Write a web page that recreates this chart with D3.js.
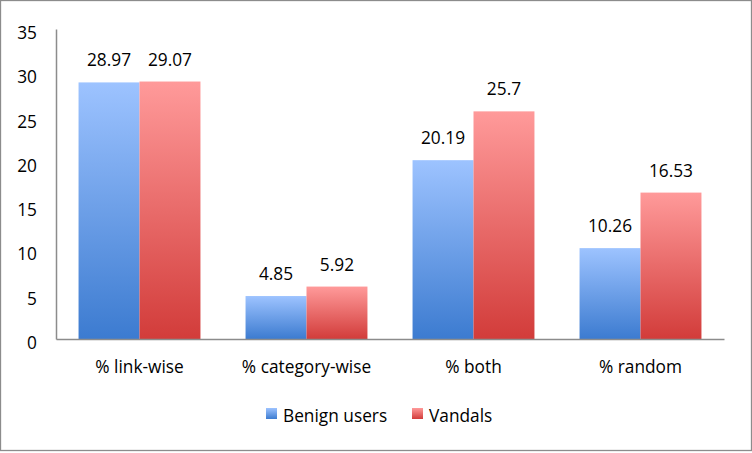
<!DOCTYPE html>
<html>
<head>
<meta charset="utf-8">
<script src="https://cdn.jsdelivr.net/npm/d3@7"></script>
<style>
body { margin: 0; background: #fff; }
svg text { font-family: "Open Sans", "Liberation Sans", sans-serif; fill: #000; }
</style>
</head>
<body>
<svg id="chart"></svg>
<script>
var categories = ["% link-wise", "% category-wise", "% both", "% random"];
var seriesNames = ["Benign users", "Vandals"];
var benign = [28.97, 4.85, 20.19, 10.26];
var vandals = [29.07, 5.92, 25.7, 16.53];
var benignLabels = ["28.97", "4.85", "20.19", "10.26"];
var vandalLabels = ["29.07", "5.92", "25.7", "16.53"];
var yTicks = [0, 5, 10, 15, 20, 25, 30, 35];

var w = 752, h = 453;
var margin = {left: 56, right: 28, top: 29, bottom: 114};
var fs = "17.3px";
var svg = d3.select("#chart").attr("width", w).attr("height", h);

var defs = svg.append("defs");
function grad(id, top, bottom) {
  var g = defs.append("linearGradient").attr("id", id)
    .attr("x1", 0).attr("y1", 0).attr("x2", 0).attr("y2", 1);
  g.append("stop").attr("offset", "0%").attr("stop-color", top);
  g.append("stop").attr("offset", "100%").attr("stop-color", bottom);
}
grad("gBlue", "#9dc3ff", "#3c7bd0");
grad("gRed", "#ff9a9a", "#d23c3a");
var fills = ["url(#gBlue)", "url(#gRed)"];

// outer frame
svg.append("rect")
  .attr("x", 0.5).attr("y", 0.5)
  .attr("width", w - 1).attr("height", h - 3)
  .attr("fill", "none").attr("stroke", "#8c8c8c").attr("stroke-width", 1.3);

var x = d3.scaleBand().domain(categories)
  .range([margin.left, w - margin.right]).paddingInner(0.27).paddingOuter(0.135);
var x1 = d3.scaleBand().domain(seriesNames).range([0, x.bandwidth()]);
var y = d3.scaleLinear().domain([0, 35]).range([h - margin.bottom, margin.top]);

// y axis
var yAxis = svg.append("g").attr("transform", `translate(${margin.left},0)`)
  .call(d3.axisLeft(y).tickValues(yTicks).tickSize(0).tickPadding(19));
yAxis.select(".domain").attr("stroke", "#8c8c8c").attr("stroke-width", 1.5);
yAxis.selectAll("text").style("font-size", fs).attr("text-anchor", "end").attr("dy", "0.55em");

var rows = categories.map(function(c, i) {
  return {cat: c, vals: [benign[i], vandals[i]], labels: [benignLabels[i], vandalLabels[i]]};
});

var groups = svg.selectAll(".grp").data(rows).enter().append("g")
  .attr("transform", function(d) { return `translate(${x(d.cat)},0)`; });

groups.selectAll("rect").data(function(d) {
  return d.vals.map(function(v, j) { return {s: seriesNames[j], v: v, j: j}; });
}).enter().append("rect")
  .attr("x", function(d) { return x1(d.s); })
  .attr("y", function(d) { return y(d.v); })
  .attr("width", x1.bandwidth())
  .attr("height", function(d) { return y(0) - y(d.v); })
  .attr("fill", function(d) { return fills[d.j]; });

groups.selectAll("text.val").data(function(d) {
  return d.vals.map(function(v, j) { return {s: seriesNames[j], v: v, t: d.labels[j]}; });
}).enter().append("text").attr("class", "val")
  .attr("x", function(d) { return x1(d.s) + x1.bandwidth() / 2; })
  .attr("y", function(d) { return y(d.v) - 16; })
  .attr("text-anchor", "middle")
  .style("font-size", fs)
  .text(function(d) { return d.t; });

// x axis
var xAxis = svg.append("g").attr("transform", `translate(0,${y(0)})`)
  .call(d3.axisBottom(x).tickSize(0).tickPadding(22));
xAxis.select(".domain").attr("stroke", "#8c8c8c").attr("stroke-width", 1.5);
xAxis.selectAll("text").style("font-size", fs);

// legend
var legend = svg.append("g").attr("transform", "translate(266,408)");
var legX = [0, 146];
seriesNames.forEach(function(name, i) {
  var g = legend.append("g").attr("transform", `translate(${legX[i]},0)`);
  g.append("rect").attr("width", 11).attr("height", 11).attr("fill", fills[i]);
  g.append("text").attr("x", 17).attr("y", 14).style("font-size", fs).text(name);
});
</script>
</body>
</html>
